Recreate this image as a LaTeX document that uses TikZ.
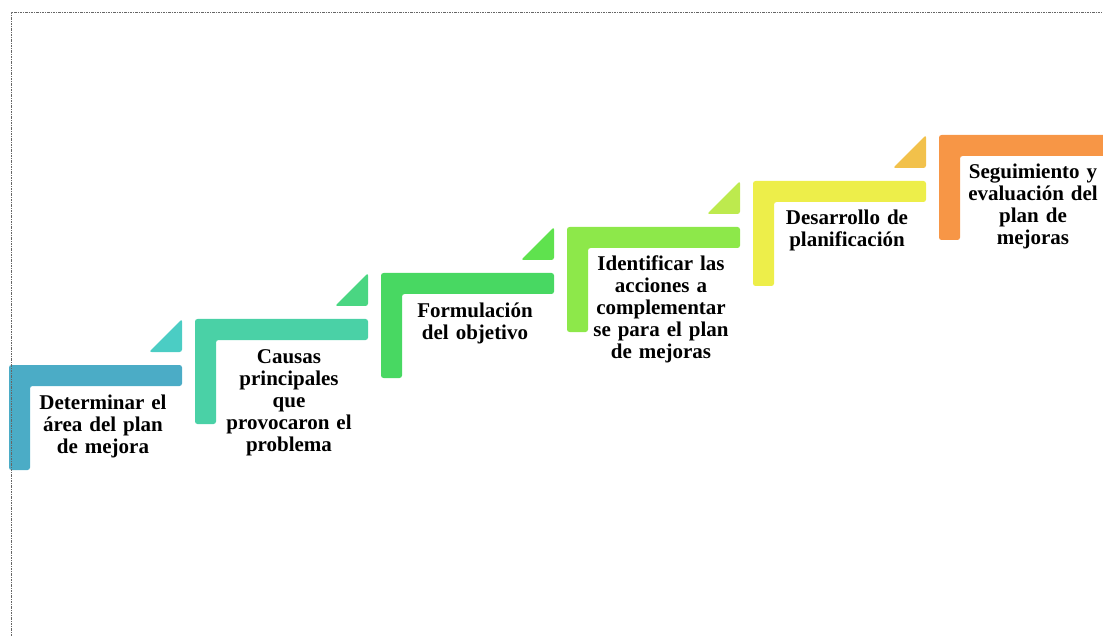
\documentclass[tikz,border=0pt]{standalone}
\usepackage{fontspec}
\setmainfont{Liberation Serif}
\definecolor{b1}{HTML}{4BACC6}
\definecolor{r1}{HTML}{4BCDC4}
\definecolor{b2}{HTML}{4AD1A6}
\definecolor{r2}{HTML}{4AD682}
\definecolor{b3}{HTML}{48D862}
\definecolor{r3}{HTML}{5FE24E}
\definecolor{b4}{HTML}{8DE84A}
\definecolor{r4}{HTML}{BDEA4E}
\definecolor{b5}{HTML}{EDEE4A}
\definecolor{r5}{HTML}{F2C14B}
\definecolor{b6}{HTML}{F79646}
\tikzset{
  lbl/.style={font=\bfseries\fontsize{21}{22}\selectfont, align=center, text width=160pt, anchor=base, inner sep=0pt},
  shp/.style={rounded corners=2.5pt},
  frame/.style={black!60, line width=0.9pt, dash pattern=on 2.5pt off 1pt on 1pt off 1pt}
}
\begin{document}
\begin{tikzpicture}[x=1pt,y=-1pt]
\useasboundingbox (0,0) rectangle (1103,636);
\begin{scope}
\clip (0,0) rectangle (1103,636);
\foreach \i/\bc in {0/b1,1/b2,2/b3,3/b4,4/b5,5/b6}{
  \pgfmathsetmacro\xa{9+186*\i}
  \pgfmathsetmacro\ya{365-46*\i}
  \fill[\bc, shp] (\xa,\ya) -- (\xa+173,\ya) -- (\xa+173,\ya+21) -- (\xa+21,\ya+21) -- (\xa+21,\ya+105) -- (\xa,\ya+105) -- cycle;
}
\foreach \i/\tc in {0/r1,1/r2,2/r3,3/r4,4/r5}{
  \pgfmathsetmacro\xa{9+186*\i}
  \pgfmathsetmacro\ya{365-46*\i}
  \fill[\tc, shp] (\xa+140,\ya-13) -- (\xa+173,\ya-13) -- (\xa+173,\ya-46) -- cycle;
}
\end{scope}
\node[lbl] (t1) at (103,409) {Determinar el\\área del plan\\de mejora};
\node[lbl] (t2) at (289,363) {Causas\\principales\\que\\provocaron el\\problema};
\node[lbl] (t3) at (475,317) {Formulación\\del objetivo};
\node[lbl] (t4) at (661,271) {Identificar las\\acciones a\\complementar\\se para el plan\\de mejoras};
\node[lbl] (t5) at (847,225) {Desarrollo de\\planificación};
\node[lbl] (t6) at (1033,179) {Seguimiento y\\evaluación del\\plan de\\mejoras};
\draw[frame] (11,636) -- (11,12) -- (1103,12);
\end{tikzpicture}
\end{document}
